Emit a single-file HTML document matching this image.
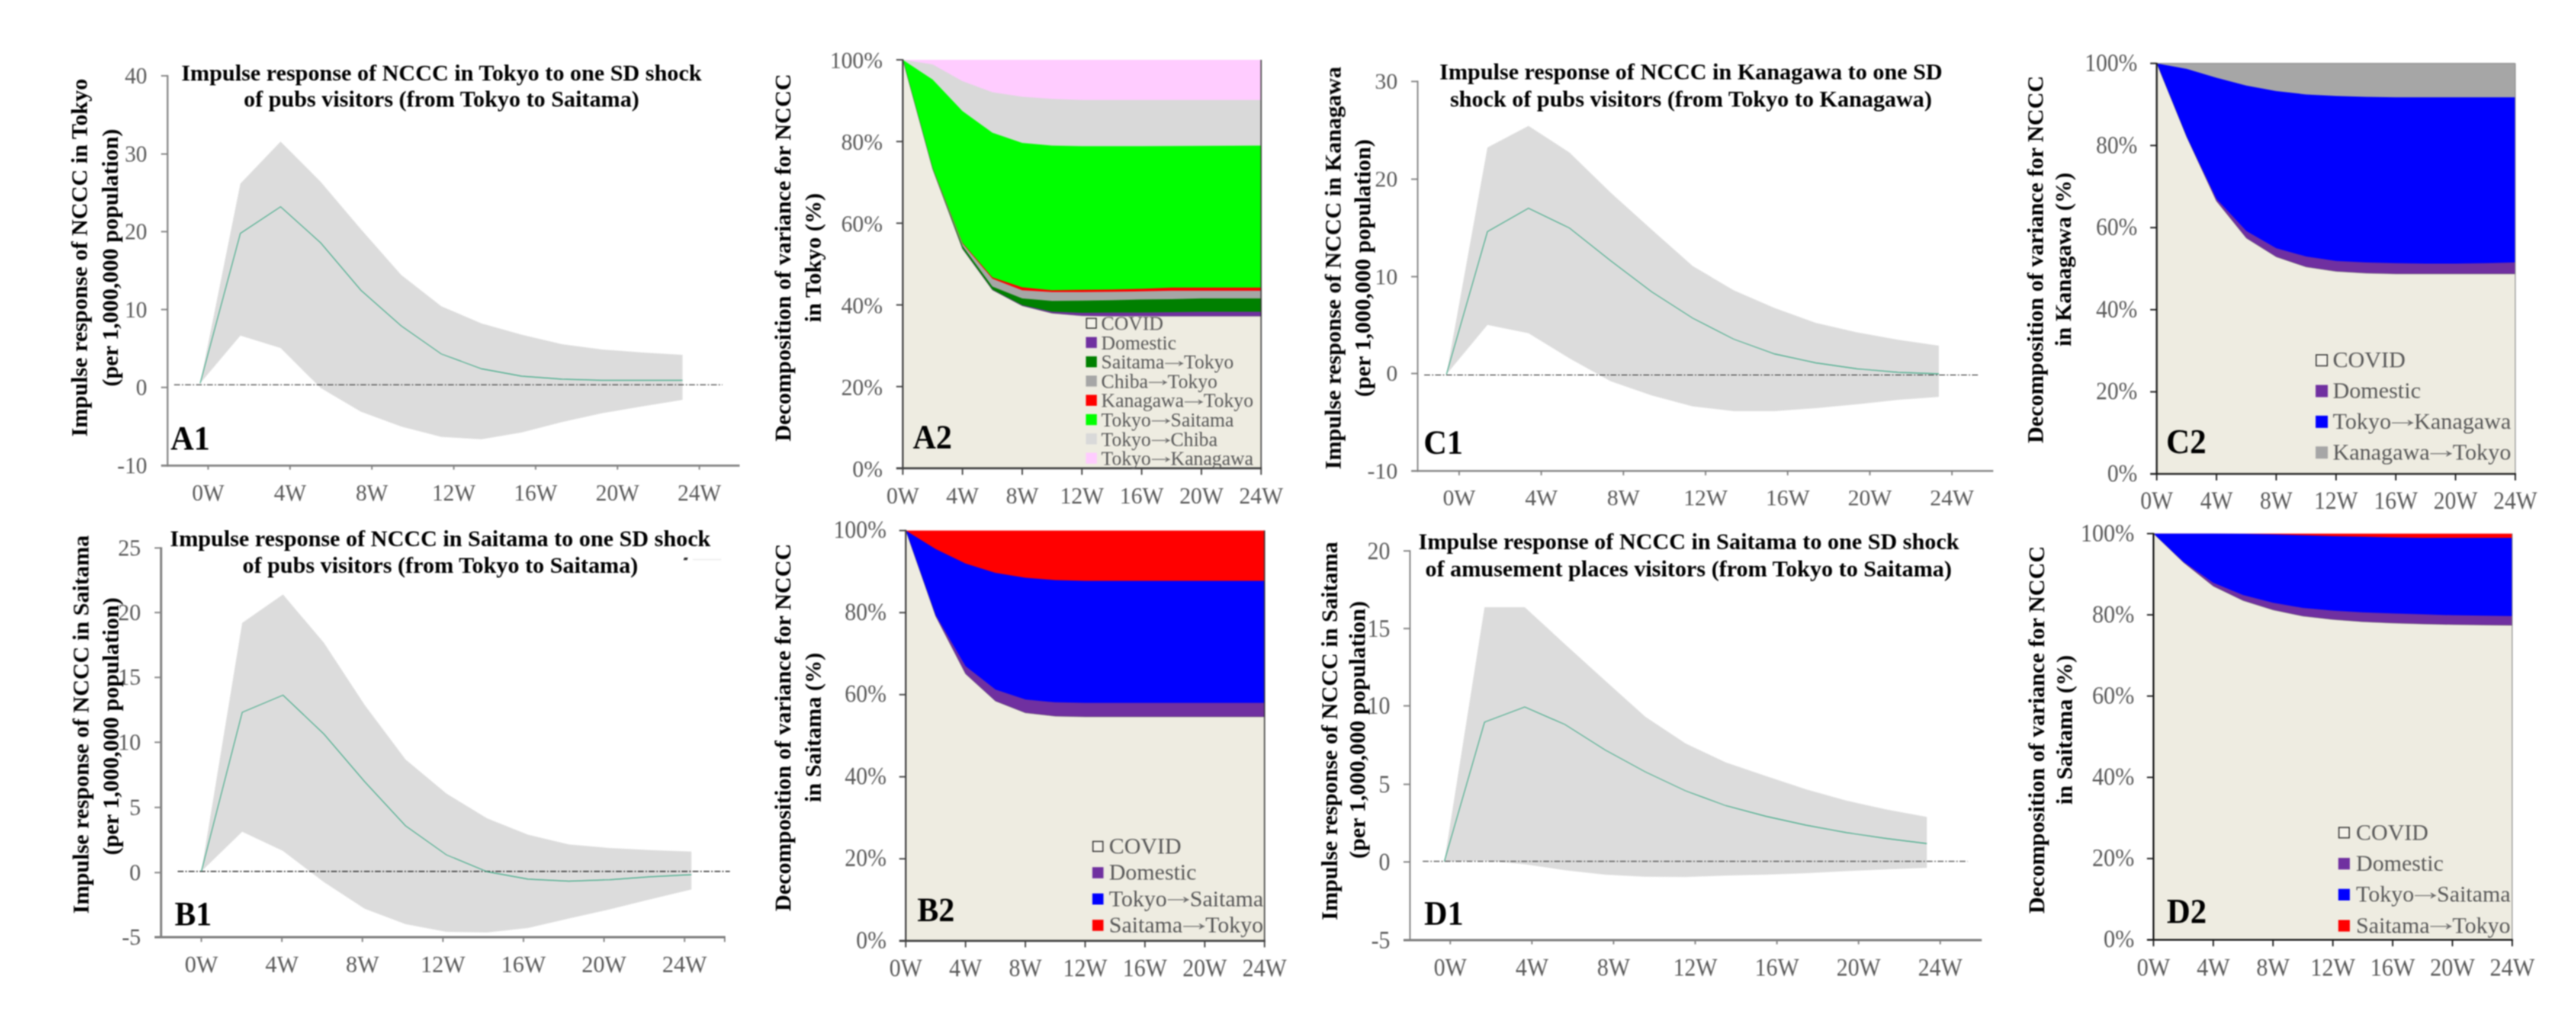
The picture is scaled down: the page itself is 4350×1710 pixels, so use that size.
<!DOCTYPE html>
<html lang="en"><head><meta charset="utf-8"><title>Impulse response and variance decomposition of NCCC</title>
<style>html,body{margin:0;padding:0;background:#fff;}body{width:4350px;height:1710px;overflow:hidden;}svg{display:block;}</style></head><body>
<svg width="4350" height="1710" viewBox="0 0 4350 1710">
<rect width="4350" height="1710" fill="#fff"/>
<defs><filter id="soft" x="0" y="0" width="100%" height="100%" filterUnits="userSpaceOnUse" color-interpolation-filters="sRGB"><feGaussianBlur stdDeviation="0.8"/></filter></defs>
<g filter="url(#soft)">
<polygon points="338.0,647.0 405.9,310.0 473.8,239.0 541.6,307.0 609.5,387.0 677.4,464.0 745.2,517.0 813.1,546.0 881.0,565.0 948.9,581.0 1016.8,590.0 1084.6,595.0 1152.5,599.0 1152.5,675.0 1084.6,686.0 1016.8,697.5 948.9,712.5 881.0,730.0 813.1,741.5 745.2,737.5 677.4,720.0 609.5,695.0 541.6,655.0 473.8,587.5 405.9,566.5 338.0,647.0" fill="#dcdcdc"/>
<line x1="294" y1="649.5" x2="1220" y2="649.5" stroke="#3a3a3a" stroke-width="1.4" stroke-dasharray="10 3 2.5 3"/>
<polyline points="338.0,647.0 405.9,394.0 473.8,349.0 541.6,410.0 609.5,490.0 677.4,550.0 745.2,597.5 813.1,622.5 881.0,635.0 948.9,640.0 1016.8,642.0 1084.6,642.0 1152.5,642.0" fill="none" stroke="#2fa47e" stroke-width="1.3"/>
<g stroke="#808080" fill="none">
<line x1="283" y1="126.8" x2="283" y2="787.8" stroke-width="2.8"/>
<line x1="272" y1="786" x2="1249" y2="786" stroke-width="3.6"/>
<line x1="272" y1="128" x2="283" y2="128" stroke-width="2.4"/>
<line x1="272" y1="260" x2="283" y2="260" stroke-width="2.4"/>
<line x1="272" y1="391" x2="283" y2="391" stroke-width="2.4"/>
<line x1="272" y1="522.5" x2="283" y2="522.5" stroke-width="2.4"/>
<line x1="272" y1="654" x2="283" y2="654" stroke-width="2.4"/>
<line x1="351.5" y1="786" x2="351.5" y2="792.8" stroke-width="2.4"/>
<line x1="489.75" y1="786" x2="489.75" y2="792.8" stroke-width="2.4"/>
<line x1="628.0" y1="786" x2="628.0" y2="792.8" stroke-width="2.4"/>
<line x1="766.25" y1="786" x2="766.25" y2="792.8" stroke-width="2.4"/>
<line x1="904.5" y1="786" x2="904.5" y2="792.8" stroke-width="2.4"/>
<line x1="1042.75" y1="786" x2="1042.75" y2="792.8" stroke-width="2.4"/>
<line x1="1181.0" y1="786" x2="1181.0" y2="792.8" stroke-width="2.4"/>
</g>
<g font-family='"Liberation Serif", serif' fill="#595959">
<text transform="translate(248.5,141.2) scale(1.0,1.08)" font-size="37.8" text-anchor="end">40</text>
<text transform="translate(248.5,273.2) scale(1.0,1.08)" font-size="37.8" text-anchor="end">30</text>
<text transform="translate(248.5,404.2) scale(1.0,1.08)" font-size="37.8" text-anchor="end">20</text>
<text transform="translate(248.5,535.7) scale(1.0,1.08)" font-size="37.8" text-anchor="end">10</text>
<text transform="translate(248.5,667.2) scale(1.0,1.08)" font-size="37.8" text-anchor="end">0</text>
<text transform="translate(248.5,798.7) scale(1.0,1.08)" font-size="37.8" text-anchor="end">-10</text>
<text transform="translate(351.5,845.2) scale(1.0,1.08)" font-size="37.8" text-anchor="middle">0W</text>
<text transform="translate(489.8,845.2) scale(1.0,1.08)" font-size="37.8" text-anchor="middle">4W</text>
<text transform="translate(628.0,845.2) scale(1.0,1.08)" font-size="37.8" text-anchor="middle">8W</text>
<text transform="translate(766.2,845.2) scale(1.0,1.08)" font-size="37.8" text-anchor="middle">12W</text>
<text transform="translate(904.5,845.2) scale(1.0,1.08)" font-size="37.8" text-anchor="middle">16W</text>
<text transform="translate(1042.8,845.2) scale(1.0,1.08)" font-size="37.8" text-anchor="middle">20W</text>
<text transform="translate(1181.0,845.2) scale(1.0,1.08)" font-size="37.8" text-anchor="middle">24W</text>
</g>
<g font-family='"Liberation Serif", serif' fill="#000">
<text transform="translate(745.5,135.5)" font-size="38.85" text-anchor="middle" font-weight="bold">Impulse response of NCCC in Tokyo to one SD shock</text>
<text transform="translate(745.5,179.5)" font-size="38.85" text-anchor="middle" font-weight="bold">of pubs visitors (from Tokyo to Saitama)</text>
<text transform="translate(147.0,435.0) rotate(-90)" font-size="38.85" text-anchor="middle" font-weight="bold">Impulse response of NCCC in Tokyo</text>
<text transform="translate(199.0,435.0) rotate(-90)" font-size="38.85" text-anchor="middle" font-weight="bold">(per 1,000,000 population)</text>
<text transform="translate(288.0,759.0) scale(1.0,1.05)" font-size="54.5" font-weight="bold">A1</text>
</g>
<polygon points="340.0,1471.0 409.0,1051.5 477.9,1003.5 546.9,1085.0 615.8,1190.0 684.8,1282.0 753.8,1339.5 822.7,1381.5 891.7,1409.0 960.6,1425.5 1029.6,1431.5 1098.6,1435.0 1167.5,1437.5 1167.5,1501.5 1098.6,1518.0 1029.6,1535.0 960.6,1550.5 891.7,1566.5 822.7,1574.0 753.8,1573.0 684.8,1560.0 615.8,1534.0 546.9,1489.0 477.9,1436.5 409.0,1404.0 340.0,1471.0" fill="#dcdcdc"/>
<line x1="300" y1="1471" x2="1232.5" y2="1471" stroke="#3a3a3a" stroke-width="1.8" stroke-dasharray="10 3 2.5 3"/>
<polyline points="340.0,1471.0 409.0,1202.5 477.9,1173.5 546.9,1239.0 615.8,1319.5 684.8,1394.0 753.8,1443.0 822.7,1471.5 891.7,1484.0 960.6,1487.5 1029.6,1485.0 1098.6,1480.0 1167.5,1476.5" fill="none" stroke="#2fa47e" stroke-width="1.3"/>
<g stroke="#808080" fill="none">
<line x1="272" y1="923.8" x2="272" y2="1584.1" stroke-width="3.8"/>
<line x1="261" y1="1582" x2="1225" y2="1582" stroke-width="4.2"/>
<line x1="261" y1="925" x2="272" y2="925" stroke-width="2.4"/>
<line x1="261" y1="1034" x2="272" y2="1034" stroke-width="2.4"/>
<line x1="261" y1="1143.5" x2="272" y2="1143.5" stroke-width="2.4"/>
<line x1="261" y1="1253" x2="272" y2="1253" stroke-width="2.4"/>
<line x1="261" y1="1363" x2="272" y2="1363" stroke-width="2.4"/>
<line x1="261" y1="1473" x2="272" y2="1473" stroke-width="2.4"/>
<line x1="340" y1="1582" x2="340" y2="1590.1" stroke-width="2.4"/>
<line x1="476" y1="1582" x2="476" y2="1590.1" stroke-width="2.4"/>
<line x1="612" y1="1582" x2="612" y2="1590.1" stroke-width="2.4"/>
<line x1="748" y1="1582" x2="748" y2="1590.1" stroke-width="2.4"/>
<line x1="884" y1="1582" x2="884" y2="1590.1" stroke-width="2.4"/>
<line x1="1020" y1="1582" x2="1020" y2="1590.1" stroke-width="2.4"/>
<line x1="1156" y1="1582" x2="1156" y2="1590.1" stroke-width="2.4"/>
<line x1="1223.8" y1="1582" x2="1223.8" y2="1590.1" stroke-width="2.4"/>
</g>
<g font-family='"Liberation Serif", serif' fill="#595959">
<text transform="translate(238.0,937.5) scale(1.0,1.02)" font-size="38.8" text-anchor="end">25</text>
<text transform="translate(238.0,1046.5) scale(1.0,1.02)" font-size="38.8" text-anchor="end">20</text>
<text transform="translate(238.0,1156.0) scale(1.0,1.02)" font-size="38.8" text-anchor="end">15</text>
<text transform="translate(238.0,1265.5) scale(1.0,1.02)" font-size="38.8" text-anchor="end">10</text>
<text transform="translate(238.0,1375.5) scale(1.0,1.02)" font-size="38.8" text-anchor="end">5</text>
<text transform="translate(238.0,1485.5) scale(1.0,1.02)" font-size="38.8" text-anchor="end">0</text>
<text transform="translate(238.0,1594.5) scale(1.0,1.02)" font-size="38.8" text-anchor="end">-5</text>
<text transform="translate(340.0,1641.0) scale(1.0,1.02)" font-size="38.8" text-anchor="middle">0W</text>
<text transform="translate(476.0,1641.0) scale(1.0,1.02)" font-size="38.8" text-anchor="middle">4W</text>
<text transform="translate(612.0,1641.0) scale(1.0,1.02)" font-size="38.8" text-anchor="middle">8W</text>
<text transform="translate(748.0,1641.0) scale(1.0,1.02)" font-size="38.8" text-anchor="middle">12W</text>
<text transform="translate(884.0,1641.0) scale(1.0,1.02)" font-size="38.8" text-anchor="middle">16W</text>
<text transform="translate(1020.0,1641.0) scale(1.0,1.02)" font-size="38.8" text-anchor="middle">20W</text>
<text transform="translate(1156.0,1641.0) scale(1.0,1.02)" font-size="38.8" text-anchor="middle">24W</text>
</g>
<g font-family='"Liberation Serif", serif' fill="#000">
<text transform="translate(743.5,921.5)" font-size="38.85" text-anchor="middle" font-weight="bold">Impulse response of NCCC in Saitama to one SD shock</text>
<text transform="translate(743.5,967.0)" font-size="38.85" text-anchor="middle" font-weight="bold">of pubs visitors (from Tokyo to Saitama)</text>
<text transform="translate(149.5,1223.0) rotate(-90)" font-size="38.85" text-anchor="middle" font-weight="bold">Impulse response of NCCC in Saitama</text>
<text transform="translate(199.5,1226.0) rotate(-90)" font-size="38.85" text-anchor="middle" font-weight="bold">(per 1,000,000 population)</text>
<text transform="translate(295.0,1562.0) scale(1.0,1.055)" font-size="53.5" font-weight="bold">B1</text>
</g>
<polygon points="2442.5,632.0 2511.8,249.0 2581.1,212.5 2650.4,257.5 2719.7,325.0 2789.0,387.5 2858.3,449.0 2927.6,490.0 2996.9,520.0 3066.2,545.0 3135.5,561.0 3204.8,573.5 3274.1,583.5 3274.1,670.0 3204.8,675.0 3135.5,682.5 3066.2,689.0 2996.9,694.0 2927.6,694.0 2858.3,686.0 2789.0,667.5 2719.7,643.5 2650.4,605.0 2581.1,562.5 2511.8,548.5 2442.5,632.0" fill="#dcdcdc"/>
<line x1="2405" y1="633" x2="3342.5" y2="633" stroke="#3a3a3a" stroke-width="1.4" stroke-dasharray="10 3 2.5 3"/>
<polyline points="2442.5,632.0 2511.8,391.0 2581.1,351.5 2650.4,385.0 2719.7,440.0 2789.0,492.5 2858.3,537.0 2927.6,572.5 2996.9,597.5 3066.2,612.5 3135.5,622.5 3204.8,628.5 3274.1,631.0" fill="none" stroke="#2fa47e" stroke-width="1.3"/>
<g stroke="#808080" fill="none">
<line x1="2394" y1="136.3" x2="2394" y2="796.4" stroke-width="2.4"/>
<line x1="2383" y1="795" x2="3366" y2="795" stroke-width="2.8"/>
<line x1="2383" y1="137.5" x2="2394" y2="137.5" stroke-width="2.4"/>
<line x1="2383" y1="302.5" x2="2394" y2="302.5" stroke-width="2.4"/>
<line x1="2383" y1="467" x2="2394" y2="467" stroke-width="2.4"/>
<line x1="2383" y1="630.5" x2="2394" y2="630.5" stroke-width="2.4"/>
<line x1="2464.0" y1="795" x2="2464.0" y2="802.4" stroke-width="2.4"/>
<line x1="2602.7" y1="795" x2="2602.7" y2="802.4" stroke-width="2.4"/>
<line x1="2741.4" y1="795" x2="2741.4" y2="802.4" stroke-width="2.4"/>
<line x1="2880.1" y1="795" x2="2880.1" y2="802.4" stroke-width="2.4"/>
<line x1="3018.8" y1="795" x2="3018.8" y2="802.4" stroke-width="2.4"/>
<line x1="3157.5" y1="795" x2="3157.5" y2="802.4" stroke-width="2.4"/>
<line x1="3296.2" y1="795" x2="3296.2" y2="802.4" stroke-width="2.4"/>
</g>
<g font-family='"Liberation Serif", serif' fill="#595959">
<text transform="translate(2360.0,150.0)" font-size="38.2" text-anchor="end">30</text>
<text transform="translate(2360.0,315.0)" font-size="38.2" text-anchor="end">20</text>
<text transform="translate(2360.0,479.5)" font-size="38.2" text-anchor="end">10</text>
<text transform="translate(2360.0,643.0)" font-size="38.2" text-anchor="end">0</text>
<text transform="translate(2360.0,807.5)" font-size="38.2" text-anchor="end">-10</text>
<text transform="translate(2464.0,852.5)" font-size="38.2" text-anchor="middle">0W</text>
<text transform="translate(2602.7,852.5)" font-size="38.2" text-anchor="middle">4W</text>
<text transform="translate(2741.4,852.5)" font-size="38.2" text-anchor="middle">8W</text>
<text transform="translate(2880.1,852.5)" font-size="38.2" text-anchor="middle">12W</text>
<text transform="translate(3018.8,852.5)" font-size="38.2" text-anchor="middle">16W</text>
<text transform="translate(3157.5,852.5)" font-size="38.2" text-anchor="middle">20W</text>
<text transform="translate(3296.2,852.5)" font-size="38.2" text-anchor="middle">24W</text>
</g>
<g font-family='"Liberation Serif", serif' fill="#000">
<text transform="translate(2855.5,134.0)" font-size="38.85" text-anchor="middle" font-weight="bold">Impulse response of NCCC in Kanagawa to one SD</text>
<text transform="translate(2855.5,179.5)" font-size="38.85" text-anchor="middle" font-weight="bold">shock of pubs visitors (from Tokyo to Kanagawa)</text>
<text transform="translate(2264.0,452.5) rotate(-90)" font-size="38.85" text-anchor="middle" font-weight="bold">Impulse response of NCCC in Kanagawa</text>
<text transform="translate(2314.0,452.5) rotate(-90)" font-size="38.85" text-anchor="middle" font-weight="bold">(per 1,000,000 population)</text>
<text transform="translate(2404.0,766.0) scale(1.0,1.05)" font-size="54.5" font-weight="bold">C1</text>
</g>
<polygon points="2439.0,1454.0 2506.9,1025.0 2574.8,1025.0 2642.7,1087.5 2710.6,1149.0 2778.5,1210.0 2846.4,1255.0 2914.3,1287.0 2982.2,1310.0 3050.1,1332.5 3118.0,1351.5 3185.9,1366.5 3253.8,1379.0 3253.8,1465.0 3185.9,1467.5 3118.0,1470.5 3050.1,1474.0 2982.2,1476.5 2914.3,1478.0 2846.4,1480.5 2778.5,1480.0 2710.6,1476.5 2642.7,1469.0 2574.8,1459.0 2506.9,1452.5 2439.0,1454.0" fill="#dcdcdc"/>
<line x1="2402.5" y1="1454" x2="3322.5" y2="1454" stroke="#3a3a3a" stroke-width="1.4" stroke-dasharray="10 3 2.5 3"/>
<polyline points="2439.0,1454.0 2506.9,1219.0 2574.8,1193.5 2642.7,1223.0 2710.6,1266.0 2778.5,1303.0 2846.4,1335.0 2914.3,1360.0 2982.2,1378.0 3050.1,1393.0 3118.0,1405.5 3185.9,1415.5 3253.8,1424.0" fill="none" stroke="#2fa47e" stroke-width="1.3"/>
<g stroke="#808080" fill="none">
<line x1="2381" y1="928.8" x2="2381" y2="1589.1" stroke-width="2.4"/>
<line x1="2370" y1="1587" x2="3346.5" y2="1587" stroke-width="4.2"/>
<line x1="2370" y1="930" x2="2381" y2="930" stroke-width="2.4"/>
<line x1="2370" y1="1061" x2="2381" y2="1061" stroke-width="2.4"/>
<line x1="2370" y1="1191.5" x2="2381" y2="1191.5" stroke-width="2.4"/>
<line x1="2370" y1="1324" x2="2381" y2="1324" stroke-width="2.4"/>
<line x1="2370" y1="1455" x2="2381" y2="1455" stroke-width="2.4"/>
<line x1="2449.0" y1="1587" x2="2449.0" y2="1594.1" stroke-width="2.4"/>
<line x1="2586.9" y1="1587" x2="2586.9" y2="1594.1" stroke-width="2.4"/>
<line x1="2724.8" y1="1587" x2="2724.8" y2="1594.1" stroke-width="2.4"/>
<line x1="2862.7" y1="1587" x2="2862.7" y2="1594.1" stroke-width="2.4"/>
<line x1="3000.6" y1="1587" x2="3000.6" y2="1594.1" stroke-width="2.4"/>
<line x1="3138.5" y1="1587" x2="3138.5" y2="1594.1" stroke-width="2.4"/>
<line x1="3276.4" y1="1587" x2="3276.4" y2="1594.1" stroke-width="2.4"/>
</g>
<g font-family='"Liberation Serif", serif' fill="#595959">
<text transform="translate(2347.5,943.5) scale(1.0,1.09)" font-size="38.4" text-anchor="end">20</text>
<text transform="translate(2347.5,1074.5) scale(1.0,1.09)" font-size="38.4" text-anchor="end">15</text>
<text transform="translate(2347.5,1205.0) scale(1.0,1.09)" font-size="38.4" text-anchor="end">10</text>
<text transform="translate(2347.5,1337.5) scale(1.0,1.09)" font-size="38.4" text-anchor="end">5</text>
<text transform="translate(2347.5,1468.5) scale(1.0,1.09)" font-size="38.4" text-anchor="end">0</text>
<text transform="translate(2347.5,1600.5) scale(1.0,1.09)" font-size="38.4" text-anchor="end">-5</text>
<text transform="translate(2449.0,1647.0) scale(1.0,1.09)" font-size="38.4" text-anchor="middle">0W</text>
<text transform="translate(2586.9,1647.0) scale(1.0,1.09)" font-size="38.4" text-anchor="middle">4W</text>
<text transform="translate(2724.8,1647.0) scale(1.0,1.09)" font-size="38.4" text-anchor="middle">8W</text>
<text transform="translate(2862.7,1647.0) scale(1.0,1.09)" font-size="38.4" text-anchor="middle">12W</text>
<text transform="translate(3000.6,1647.0) scale(1.0,1.09)" font-size="38.4" text-anchor="middle">16W</text>
<text transform="translate(3138.5,1647.0) scale(1.0,1.09)" font-size="38.4" text-anchor="middle">20W</text>
<text transform="translate(3276.4,1647.0) scale(1.0,1.09)" font-size="38.4" text-anchor="middle">24W</text>
</g>
<g font-family='"Liberation Serif", serif' fill="#000">
<text transform="translate(2851.8,927.0)" font-size="38.85" text-anchor="middle" font-weight="bold">Impulse response of NCCC in Saitama to one SD shock</text>
<text transform="translate(2851.3,973.0)" font-size="38.85" text-anchor="middle" font-weight="bold">of amusement places visitors (from Tokyo to Saitama)</text>
<text transform="translate(2258.0,1234.0) rotate(-90)" font-size="38.85" text-anchor="middle" font-weight="bold">Impulse response of NCCC in Saitama</text>
<text transform="translate(2305.0,1232.0) rotate(-90)" font-size="38.85" text-anchor="middle" font-weight="bold">(per 1,000,000 population)</text>
<text transform="translate(2405.0,1560.6) scale(1.0,1.07)" font-size="54.2" font-weight="bold">D1</text>
</g>
<path d="M1155.5 941.2h6.2l-1.4 4.4h-6.2z" fill="#2a2a2a"/><line x1="1170" y1="944.6" x2="1218" y2="944.6" stroke="#ececec" stroke-width="2"/>
<rect x="1524.5" y="101" width="605.0999999999999" height="689.5" fill="#ffccff"/>
<polygon points="1524.5,101.0 1574.9,108.8 1625.3,136.9 1675.8,155.7 1726.2,163.2 1776.6,166.9 1827.0,168.8 1877.5,168.8 1927.9,168.8 1978.3,168.8 2028.8,168.8 2079.2,168.8 2129.6,168.8 2129.6,790.5 1524.5,790.5" fill="#d9d9d9"/>
<polygon points="1524.5,101.0 1574.9,134.3 1625.3,187.6 1675.8,223.9 1726.2,241.2 1776.6,245.7 1827.0,246.8 1877.5,246.8 1927.9,246.8 1978.3,246.6 2028.8,246.3 2079.2,246.0 2129.6,245.7 2129.6,790.5 1524.5,790.5" fill="#00ff00"/>
<polygon points="1524.5,101.0 1574.9,284.0 1625.3,410.0 1675.8,468.2 1726.2,485.0 1776.6,490.0 1827.0,489.2 1877.5,488.8 1927.9,487.5 1978.3,485.5 2028.8,485.5 2079.2,485.5 2129.6,485.5 2129.6,790.5 1524.5,790.5" fill="#ff0000"/>
<polygon points="1524.5,101.0 1574.9,284.3 1625.3,411.2 1675.8,470.5 1726.2,490.0 1776.6,493.0 1827.0,493.0 1877.5,492.5 1927.9,491.8 1978.3,490.8 2028.8,490.8 2079.2,490.8 2129.6,490.8 2129.6,790.5 1524.5,790.5" fill="#a6a6a6"/>
<polygon points="1524.5,101.0 1574.9,284.6 1625.3,415.0 1675.8,483.8 1726.2,503.8 1776.6,508.0 1827.0,507.5 1877.5,506.8 1927.9,505.5 1978.3,505.0 2028.8,503.8 2079.2,503.8 2129.6,503.8 2129.6,790.5 1524.5,790.5" fill="#008000"/>
<polygon points="1524.5,101.0 1574.9,285.0 1625.3,419.5 1675.8,488.8 1726.2,515.0 1776.6,526.2 1827.0,528.0 1877.5,527.5 1927.9,527.5 1978.3,527.0 2028.8,526.2 2079.2,526.2 2129.6,526.2 2129.6,790.5 1524.5,790.5" fill="#7030a0"/>
<polygon points="1524.5,101.0 1574.9,285.3 1625.3,420.0 1675.8,489.5 1726.2,516.2 1776.6,528.8 1827.0,533.0 1877.5,533.8 1927.9,533.8 1978.3,533.8 2028.8,533.8 2079.2,533.8 2129.6,533.8 2129.6,790.5 1524.5,790.5" fill="#eeece1"/>
<polyline points="1524.5,101.0 1574.9,285.3 1625.3,420.0 1675.8,489.5 1726.2,516.2 1776.6,528.8 1827.0,533.0 1877.5,533.8 1927.9,533.8 1978.3,533.8 2028.8,533.8 2079.2,533.8 2129.6,533.8" fill="none" stroke="#333" stroke-opacity="0.45" stroke-width="1"/>
<line x1="2129.6" y1="101" x2="2129.6" y2="790.5" stroke="#333" stroke-width="2"/>
<g stroke="#404040" fill="none">
<line x1="1524.5" y1="100" x2="1524.5" y2="791.5" stroke-width="2.8"/>
<line x1="1513.5" y1="790.5" x2="2130.7999999999997" y2="790.5" stroke-width="3.4"/>
<line x1="1513.5" y1="101.0" x2="1524.5" y2="101.0" stroke-width="2.4"/>
<line x1="1513.5" y1="238.9" x2="1524.5" y2="238.9" stroke-width="2.4"/>
<line x1="1513.5" y1="376.8" x2="1524.5" y2="376.8" stroke-width="2.4"/>
<line x1="1513.5" y1="514.7" x2="1524.5" y2="514.7" stroke-width="2.4"/>
<line x1="1513.5" y1="652.6" x2="1524.5" y2="652.6" stroke-width="2.4"/>
<line x1="1524.5" y1="790.5" x2="1524.5" y2="801.5" stroke-width="2.4"/>
<line x1="1625.3" y1="790.5" x2="1625.3" y2="801.5" stroke-width="2.4"/>
<line x1="1726.2" y1="790.5" x2="1726.2" y2="801.5" stroke-width="2.4"/>
<line x1="1827.0" y1="790.5" x2="1827.0" y2="801.5" stroke-width="2.4"/>
<line x1="1927.9" y1="790.5" x2="1927.9" y2="801.5" stroke-width="2.4"/>
<line x1="2028.8" y1="790.5" x2="2028.8" y2="801.5" stroke-width="2.4"/>
<line x1="2129.6" y1="790.5" x2="2129.6" y2="801.5" stroke-width="2.4"/>
</g>
<g font-family='"Liberation Serif", serif' fill="#595959">
<text transform="translate(1490.5,115.0) scale(1.0,1.056)" font-size="38.2" text-anchor="end">100%</text>
<text transform="translate(1490.5,252.9) scale(1.0,1.056)" font-size="38.2" text-anchor="end">80%</text>
<text transform="translate(1490.5,390.8) scale(1.0,1.056)" font-size="38.2" text-anchor="end">60%</text>
<text transform="translate(1490.5,528.7) scale(1.0,1.056)" font-size="38.2" text-anchor="end">40%</text>
<text transform="translate(1490.5,666.6) scale(1.0,1.056)" font-size="38.2" text-anchor="end">20%</text>
<text transform="translate(1490.5,804.5) scale(1.0,1.056)" font-size="38.2" text-anchor="end">0%</text>
<text transform="translate(1524.5,850.0) scale(1.0,1.056)" font-size="38.2" text-anchor="middle">0W</text>
<text transform="translate(1625.3,850.0) scale(1.0,1.056)" font-size="38.2" text-anchor="middle">4W</text>
<text transform="translate(1726.2,850.0) scale(1.0,1.056)" font-size="38.2" text-anchor="middle">8W</text>
<text transform="translate(1827.0,850.0) scale(1.0,1.056)" font-size="38.2" text-anchor="middle">12W</text>
<text transform="translate(1927.9,850.0) scale(1.0,1.056)" font-size="38.2" text-anchor="middle">16W</text>
<text transform="translate(2028.8,850.0) scale(1.0,1.056)" font-size="38.2" text-anchor="middle">20W</text>
<text transform="translate(2129.6,850.0) scale(1.0,1.056)" font-size="38.2" text-anchor="middle">24W</text>
</g>
<g font-family='"Liberation Serif", serif' fill="#000">
<text transform="translate(1335.0,435.0) rotate(-90)" font-size="38.85" text-anchor="middle" font-weight="bold">Decomposition of variance for NCCC</text>
<text transform="translate(1386.0,435.0) rotate(-90)" font-size="38.85" text-anchor="middle" font-weight="bold">in Tokyo (%)</text>
<text transform="translate(1541.5,757.0) scale(1.0,1.05)" font-size="54.1" font-weight="bold">A2</text>
</g>
<g font-family='"Liberation Serif", serif' fill="#595959">
<rect x="1834.7" y="537.4" width="16.5" height="16.5" fill="#f4f2ea" stroke="#262626" stroke-width="1.8"/>
<text transform="translate(1859.6,557.2)" font-size="33.1">COVID</text>
<rect x="1833.7" y="568.9" width="18.5" height="18.5" fill="#7030a0"/>
<text transform="translate(1859.6,589.7)" font-size="33.1">Domestic</text>
<rect x="1833.7" y="601.5" width="18.5" height="18.5" fill="#008000"/>
<text transform="translate(1859.6,622.3)" font-size="33.1">Saitama</text>
<text transform="translate(1982.8,618.5) scale(1.6,1.0)" font-size="33.1" text-anchor="middle" fill="#6a6a6a">→</text>
<text transform="translate(1999.3,622.3)" font-size="33.1">Tokyo</text>
<rect x="1833.7" y="634.0" width="18.5" height="18.5" fill="#a6a6a6"/>
<text transform="translate(1859.6,654.8)" font-size="33.1">Chiba</text>
<text transform="translate(1955.2,651.0) scale(1.6,1.0)" font-size="33.1" text-anchor="middle" fill="#6a6a6a">→</text>
<text transform="translate(1971.8,654.8)" font-size="33.1">Tokyo</text>
<rect x="1833.7" y="666.5" width="18.5" height="18.5" fill="#ff0000"/>
<text transform="translate(1859.6,687.4)" font-size="33.1">Kanagawa</text>
<text transform="translate(2015.8,683.6) scale(1.6,1.0)" font-size="33.1" text-anchor="middle" fill="#6a6a6a">→</text>
<text transform="translate(2032.4,687.4)" font-size="33.1">Tokyo</text>
<rect x="1833.7" y="699.1" width="18.5" height="18.5" fill="#00ff00"/>
<text transform="translate(1859.6,719.9)" font-size="33.1">Tokyo</text>
<text transform="translate(1960.3,716.1) scale(1.6,1.0)" font-size="33.1" text-anchor="middle" fill="#6a6a6a">→</text>
<text transform="translate(1976.8,719.9)" font-size="33.1">Saitama</text>
<rect x="1833.7" y="731.6" width="18.5" height="18.5" fill="#d9d9d9"/>
<text transform="translate(1859.6,752.5)" font-size="33.1">Tokyo</text>
<text transform="translate(1960.3,748.7) scale(1.6,1.0)" font-size="33.1" text-anchor="middle" fill="#6a6a6a">→</text>
<text transform="translate(1976.8,752.5)" font-size="33.1">Chiba</text>
<rect x="1833.7" y="764.2" width="18.5" height="18.5" fill="#ffccff"/>
<text transform="translate(1859.6,785.0)" font-size="33.1">Tokyo</text>
<text transform="translate(1960.3,781.2) scale(1.6,1.0)" font-size="33.1" text-anchor="middle" fill="#6a6a6a">→</text>
<text transform="translate(1976.8,785.0)" font-size="33.1">Kanagawa</text>
</g>
<rect x="1529.5" y="895.6" width="605.9000000000001" height="692.6" fill="#ff0000"/>
<polygon points="1529.5,895.6 1580.0,926.8 1630.5,951.2 1681.0,966.9 1731.5,975.2 1782.0,979.3 1832.5,980.4 1882.9,980.4 1933.4,980.4 1983.9,980.4 2034.4,980.4 2084.9,980.4 2135.4,980.4 2135.4,1588.2 1529.5,1588.2" fill="#0000ff"/>
<polygon points="1529.5,895.6 1580.0,1038.2 1630.5,1124.5 1681.0,1163.9 1731.5,1180.8 1782.0,1185.6 1832.5,1186.4 1882.9,1186.4 1933.4,1186.4 1983.9,1186.4 2034.4,1186.4 2084.9,1186.4 2135.4,1186.4 2135.4,1588.2 1529.5,1588.2" fill="#7030a0"/>
<polygon points="1529.5,895.6 1580.0,1040.0 1630.5,1137.6 1681.0,1183.4 1731.5,1203.3 1782.0,1208.9 1832.5,1210.0 1882.9,1210.0 1933.4,1210.0 1983.9,1210.0 2034.4,1210.0 2084.9,1210.0 2135.4,1210.0 2135.4,1588.2 1529.5,1588.2" fill="#eeece1"/>
<polyline points="1529.5,895.6 1580.0,1040.0 1630.5,1137.6 1681.0,1183.4 1731.5,1203.3 1782.0,1208.9 1832.5,1210.0 1882.9,1210.0 1933.4,1210.0 1983.9,1210.0 2034.4,1210.0 2084.9,1210.0 2135.4,1210.0" fill="none" stroke="#333" stroke-opacity="0.45" stroke-width="1"/>
<line x1="2135.4" y1="895.6" x2="2135.4" y2="1588.2" stroke="#333" stroke-width="2"/>
<g stroke="#404040" fill="none">
<line x1="1529.5" y1="894.6" x2="1529.5" y2="1589.2" stroke-width="2.8"/>
<line x1="1518.5" y1="1588.2" x2="2136.6" y2="1588.2" stroke-width="3.4"/>
<line x1="1518.5" y1="895.6" x2="1529.5" y2="895.6" stroke-width="2.4"/>
<line x1="1518.5" y1="1034.1" x2="1529.5" y2="1034.1" stroke-width="2.4"/>
<line x1="1518.5" y1="1172.6" x2="1529.5" y2="1172.6" stroke-width="2.4"/>
<line x1="1518.5" y1="1311.2" x2="1529.5" y2="1311.2" stroke-width="2.4"/>
<line x1="1518.5" y1="1449.7" x2="1529.5" y2="1449.7" stroke-width="2.4"/>
<line x1="1529.5" y1="1588.2" x2="1529.5" y2="1599.2" stroke-width="2.4"/>
<line x1="1630.5" y1="1588.2" x2="1630.5" y2="1599.2" stroke-width="2.4"/>
<line x1="1731.5" y1="1588.2" x2="1731.5" y2="1599.2" stroke-width="2.4"/>
<line x1="1832.5" y1="1588.2" x2="1832.5" y2="1599.2" stroke-width="2.4"/>
<line x1="1933.4" y1="1588.2" x2="1933.4" y2="1599.2" stroke-width="2.4"/>
<line x1="2034.4" y1="1588.2" x2="2034.4" y2="1599.2" stroke-width="2.4"/>
<line x1="2135.4" y1="1588.2" x2="2135.4" y2="1599.2" stroke-width="2.4"/>
</g>
<g font-family='"Liberation Serif", serif' fill="#595959">
<text transform="translate(1497.0,908.1) scale(1.0,1.075)" font-size="38.4" text-anchor="end">100%</text>
<text transform="translate(1497.0,1046.6) scale(1.0,1.075)" font-size="38.4" text-anchor="end">80%</text>
<text transform="translate(1497.0,1185.1) scale(1.0,1.075)" font-size="38.4" text-anchor="end">60%</text>
<text transform="translate(1497.0,1323.7) scale(1.0,1.075)" font-size="38.4" text-anchor="end">40%</text>
<text transform="translate(1497.0,1462.2) scale(1.0,1.075)" font-size="38.4" text-anchor="end">20%</text>
<text transform="translate(1497.0,1600.7) scale(1.0,1.075)" font-size="38.4" text-anchor="end">0%</text>
<text transform="translate(1529.5,1647.5) scale(1.0,1.075)" font-size="38.4" text-anchor="middle">0W</text>
<text transform="translate(1630.5,1647.5) scale(1.0,1.075)" font-size="38.4" text-anchor="middle">4W</text>
<text transform="translate(1731.5,1647.5) scale(1.0,1.075)" font-size="38.4" text-anchor="middle">8W</text>
<text transform="translate(1832.5,1647.5) scale(1.0,1.075)" font-size="38.4" text-anchor="middle">12W</text>
<text transform="translate(1933.4,1647.5) scale(1.0,1.075)" font-size="38.4" text-anchor="middle">16W</text>
<text transform="translate(2034.4,1647.5) scale(1.0,1.075)" font-size="38.4" text-anchor="middle">20W</text>
<text transform="translate(2135.4,1647.5) scale(1.0,1.075)" font-size="38.4" text-anchor="middle">24W</text>
</g>
<g font-family='"Liberation Serif", serif' fill="#000">
<text transform="translate(1335.0,1228.0) rotate(-90)" font-size="38.85" text-anchor="middle" font-weight="bold">Decomposition of variance for NCCC</text>
<text transform="translate(1386.0,1228.0) rotate(-90)" font-size="38.85" text-anchor="middle" font-weight="bold">in Saitama (%)</text>
<text transform="translate(1549.0,1554.6) scale(1.0,1.06)" font-size="54" font-weight="bold">B2</text>
</g>
<g font-family='"Liberation Serif", serif' fill="#595959">
<rect x="1845.6" y="1420.4" width="16.8" height="16.8" fill="#f4f2ea" stroke="#262626" stroke-width="1.8"/>
<text transform="translate(1872.7,1440.8)" font-size="38.55">COVID</text>
<rect x="1844.6" y="1463.8" width="18.8" height="18.8" fill="#7030a0"/>
<text transform="translate(1872.7,1485.2)" font-size="38.55">Domestic</text>
<rect x="1844.6" y="1508.2" width="18.8" height="18.8" fill="#0000ff"/>
<text transform="translate(1872.7,1529.6)" font-size="38.55">Tokyo</text>
<text transform="translate(1989.9,1525.1) scale(1.6,1.0)" font-size="38.55" text-anchor="middle" fill="#6a6a6a">→</text>
<text transform="translate(2009.2,1529.6)" font-size="38.55">Saitama</text>
<rect x="1844.6" y="1552.6" width="18.8" height="18.8" fill="#ff0000"/>
<text transform="translate(1872.7,1574.0)" font-size="38.55">Saitama</text>
<text transform="translate(2016.2,1569.5) scale(1.6,1.0)" font-size="38.55" text-anchor="middle" fill="#6a6a6a">→</text>
<text transform="translate(2035.4,1574.0)" font-size="38.55">Tokyo</text>
</g>
<rect x="3642" y="107" width="605.5" height="693" fill="#a6a6a6"/>
<polygon points="3642.0,107.0 3692.5,116.3 3742.9,131.3 3793.4,144.4 3843.8,153.8 3894.3,159.4 3944.8,162.0 3995.2,163.5 4045.7,164.3 4096.1,164.3 4146.6,164.3 4197.0,164.3 4247.5,164.3 4247.5,800 3642.0,800" fill="#0000ff"/>
<polygon points="3642.0,107.0 3692.5,230.7 3742.9,335.7 3793.4,390.0 3843.8,419.0 3894.3,433.0 3944.8,440.5 3995.2,443.1 4045.7,444.3 4096.1,445.0 4146.6,445.0 4197.0,444.3 4247.5,443.1 4247.5,800 3642.0,800" fill="#7030a0"/>
<polygon points="3642.0,107.0 3692.5,231.0 3742.9,339.5 3793.4,402.0 3843.8,433.5 3894.3,450.6 3944.8,458.1 3995.2,461.1 4045.7,462.3 4096.1,462.3 4146.6,462.3 4197.0,462.3 4247.5,462.3 4247.5,800 3642.0,800" fill="#eeece1"/>
<polyline points="3642.0,107.0 3692.5,231.0 3742.9,339.5 3793.4,402.0 3843.8,433.5 3894.3,450.6 3944.8,458.1 3995.2,461.1 4045.7,462.3 4096.1,462.3 4146.6,462.3 4197.0,462.3 4247.5,462.3" fill="none" stroke="#333" stroke-opacity="0.45" stroke-width="1"/>
<line x1="4247.5" y1="107" x2="4247.5" y2="800" stroke="#8c8c8c" stroke-width="1.5"/>
<line x1="3642" y1="107" x2="4247.5" y2="107" stroke="#8c8c8c" stroke-width="1.5"/>
<g stroke="#1a1a1a" fill="none">
<line x1="3642" y1="106" x2="3642" y2="801" stroke-width="3"/>
<line x1="3631" y1="800" x2="4248.7" y2="800" stroke-width="3"/>
<line x1="3631" y1="107.0" x2="3642" y2="107.0" stroke-width="2.4"/>
<line x1="3631" y1="245.6" x2="3642" y2="245.6" stroke-width="2.4"/>
<line x1="3631" y1="384.2" x2="3642" y2="384.2" stroke-width="2.4"/>
<line x1="3631" y1="522.8" x2="3642" y2="522.8" stroke-width="2.4"/>
<line x1="3631" y1="661.4" x2="3642" y2="661.4" stroke-width="2.4"/>
<line x1="3642.0" y1="800" x2="3642.0" y2="811" stroke-width="2.4"/>
<line x1="3742.9" y1="800" x2="3742.9" y2="811" stroke-width="2.4"/>
<line x1="3843.8" y1="800" x2="3843.8" y2="811" stroke-width="2.4"/>
<line x1="3944.8" y1="800" x2="3944.8" y2="811" stroke-width="2.4"/>
<line x1="4045.7" y1="800" x2="4045.7" y2="811" stroke-width="2.4"/>
<line x1="4146.6" y1="800" x2="4146.6" y2="811" stroke-width="2.4"/>
<line x1="4247.5" y1="800" x2="4247.5" y2="811" stroke-width="2.4"/>
</g>
<g font-family='"Liberation Serif", serif' fill="#595959">
<text transform="translate(3609.3,120.0) scale(1.0,1.1)" font-size="38.1" text-anchor="end">100%</text>
<text transform="translate(3609.3,258.6) scale(1.0,1.1)" font-size="38.1" text-anchor="end">80%</text>
<text transform="translate(3609.3,397.2) scale(1.0,1.1)" font-size="38.1" text-anchor="end">60%</text>
<text transform="translate(3609.3,535.8) scale(1.0,1.1)" font-size="38.1" text-anchor="end">40%</text>
<text transform="translate(3609.3,674.4) scale(1.0,1.1)" font-size="38.1" text-anchor="end">20%</text>
<text transform="translate(3609.3,813.0) scale(1.0,1.1)" font-size="38.1" text-anchor="end">0%</text>
<text transform="translate(3642.0,859.0) scale(1.0,1.1)" font-size="38.1" text-anchor="middle">0W</text>
<text transform="translate(3742.9,859.0) scale(1.0,1.1)" font-size="38.1" text-anchor="middle">4W</text>
<text transform="translate(3843.8,859.0) scale(1.0,1.1)" font-size="38.1" text-anchor="middle">8W</text>
<text transform="translate(3944.8,859.0) scale(1.0,1.1)" font-size="38.1" text-anchor="middle">12W</text>
<text transform="translate(4045.7,859.0) scale(1.0,1.1)" font-size="38.1" text-anchor="middle">16W</text>
<text transform="translate(4146.6,859.0) scale(1.0,1.1)" font-size="38.1" text-anchor="middle">20W</text>
<text transform="translate(4247.5,859.0) scale(1.0,1.1)" font-size="38.1" text-anchor="middle">24W</text>
</g>
<g font-family='"Liberation Serif", serif' fill="#000">
<text transform="translate(3450.0,438.0) rotate(-90)" font-size="38.85" text-anchor="middle" font-weight="bold">Decomposition of variance for NCCC</text>
<text transform="translate(3497.0,438.0) rotate(-90)" font-size="38.85" text-anchor="middle" font-weight="bold">in Kanagawa (%)</text>
<text transform="translate(3658.0,765.0) scale(1.0,1.075)" font-size="55.3" font-weight="bold">C2</text>
</g>
<g font-family='"Liberation Serif", serif' fill="#595959">
<rect x="3911.3" y="598.9" width="18.6" height="18.6" fill="#f4f2ea" stroke="#262626" stroke-width="1.8"/>
<text transform="translate(3939.2,620.2)" font-size="38.8">COVID</text>
<rect x="3910.3" y="649.8" width="20.6" height="20.6" fill="#7030a0"/>
<text transform="translate(3939.2,672.1)" font-size="38.8">Domestic</text>
<rect x="3910.3" y="701.7" width="20.6" height="20.6" fill="#0000ff"/>
<text transform="translate(3939.2,724.0)" font-size="38.8">Tokyo</text>
<text transform="translate(4057.2,719.6) scale(1.6,1.0)" font-size="38.8" text-anchor="middle" fill="#6a6a6a">→</text>
<text transform="translate(4076.6,724.0)" font-size="38.8">Kanagawa</text>
<rect x="3910.3" y="753.6" width="20.6" height="20.6" fill="#a6a6a6"/>
<text transform="translate(3939.2,775.9)" font-size="38.8">Kanagawa</text>
<text transform="translate(4122.3,771.5) scale(1.6,1.0)" font-size="38.8" text-anchor="middle" fill="#6a6a6a">→</text>
<text transform="translate(4141.7,775.9)" font-size="38.8">Tokyo</text>
</g>
<rect x="3636.5" y="900.8" width="605.8000000000002" height="685.6000000000001" fill="#ff0000"/>
<polygon points="3636.5,900.8 3687.0,900.8 3737.5,900.8 3787.9,901.0 3838.4,902.0 3888.9,903.5 3939.4,905.0 3989.9,906.1 4040.4,907.3 4090.9,908.0 4141.3,908.0 4191.8,908.0 4242.3,908.0 4242.3,1586.4 3636.5,1586.4" fill="#0000ff"/>
<polygon points="3636.5,900.8 3687.0,948.2 3737.5,983.8 3787.9,1004.4 3838.4,1017.6 3888.9,1026.2 3939.4,1030.7 3989.9,1033.7 4040.4,1035.6 4090.9,1037.1 4141.3,1038.6 4191.8,1039.3 4242.3,1040.0 4242.3,1586.4 3636.5,1586.4" fill="#7030a0"/>
<polygon points="3636.5,900.8 3687.0,949.3 3737.5,989.4 3787.9,1013.8 3838.4,1029.6 3888.9,1040.0 3939.4,1045.7 3989.9,1049.5 4040.4,1051.7 4090.9,1053.2 4141.3,1054.3 4191.8,1055.0 4242.3,1055.5 4242.3,1586.4 3636.5,1586.4" fill="#eeece1"/>
<polyline points="3636.5,900.8 3687.0,949.3 3737.5,989.4 3787.9,1013.8 3838.4,1029.6 3888.9,1040.0 3939.4,1045.7 3989.9,1049.5 4040.4,1051.7 4090.9,1053.2 4141.3,1054.3 4191.8,1055.0 4242.3,1055.5" fill="none" stroke="#333" stroke-opacity="0.45" stroke-width="1"/>
<line x1="4242.3" y1="900.8" x2="4242.3" y2="1586.4" stroke="#8c8c8c" stroke-width="1.5"/>
<g stroke="#1a1a1a" fill="none">
<line x1="3636.5" y1="899.8" x2="3636.5" y2="1587.4" stroke-width="3"/>
<line x1="3625.5" y1="1586.4" x2="4243.5" y2="1586.4" stroke-width="3"/>
<line x1="3625.5" y1="900.8" x2="3636.5" y2="900.8" stroke-width="2.4"/>
<line x1="3625.5" y1="1037.9" x2="3636.5" y2="1037.9" stroke-width="2.4"/>
<line x1="3625.5" y1="1175.0" x2="3636.5" y2="1175.0" stroke-width="2.4"/>
<line x1="3625.5" y1="1312.2" x2="3636.5" y2="1312.2" stroke-width="2.4"/>
<line x1="3625.5" y1="1449.3" x2="3636.5" y2="1449.3" stroke-width="2.4"/>
<line x1="3636.5" y1="1586.4" x2="3636.5" y2="1597.4" stroke-width="2.4"/>
<line x1="3737.5" y1="1586.4" x2="3737.5" y2="1597.4" stroke-width="2.4"/>
<line x1="3838.4" y1="1586.4" x2="3838.4" y2="1597.4" stroke-width="2.4"/>
<line x1="3939.4" y1="1586.4" x2="3939.4" y2="1597.4" stroke-width="2.4"/>
<line x1="4040.4" y1="1586.4" x2="4040.4" y2="1597.4" stroke-width="2.4"/>
<line x1="4141.3" y1="1586.4" x2="4141.3" y2="1597.4" stroke-width="2.4"/>
<line x1="4242.3" y1="1586.4" x2="4242.3" y2="1597.4" stroke-width="2.4"/>
</g>
<g font-family='"Liberation Serif", serif' fill="#595959">
<text transform="translate(3604.2,913.8) scale(1.0,1.06)" font-size="38.9" text-anchor="end">100%</text>
<text transform="translate(3604.2,1050.9) scale(1.0,1.06)" font-size="38.9" text-anchor="end">80%</text>
<text transform="translate(3604.2,1188.0) scale(1.0,1.06)" font-size="38.9" text-anchor="end">60%</text>
<text transform="translate(3604.2,1325.2) scale(1.0,1.06)" font-size="38.9" text-anchor="end">40%</text>
<text transform="translate(3604.2,1462.3) scale(1.0,1.06)" font-size="38.9" text-anchor="end">20%</text>
<text transform="translate(3604.2,1599.4) scale(1.0,1.06)" font-size="38.9" text-anchor="end">0%</text>
<text transform="translate(3636.5,1646.5) scale(1.0,1.06)" font-size="38.9" text-anchor="middle">0W</text>
<text transform="translate(3737.5,1646.5) scale(1.0,1.06)" font-size="38.9" text-anchor="middle">4W</text>
<text transform="translate(3838.4,1646.5) scale(1.0,1.06)" font-size="38.9" text-anchor="middle">8W</text>
<text transform="translate(3939.4,1646.5) scale(1.0,1.06)" font-size="38.9" text-anchor="middle">12W</text>
<text transform="translate(4040.4,1646.5) scale(1.0,1.06)" font-size="38.9" text-anchor="middle">16W</text>
<text transform="translate(4141.3,1646.5) scale(1.0,1.06)" font-size="38.9" text-anchor="middle">20W</text>
<text transform="translate(4242.3,1646.5) scale(1.0,1.06)" font-size="38.9" text-anchor="middle">24W</text>
</g>
<g font-family='"Liberation Serif", serif' fill="#000">
<text transform="translate(3451.5,1232.0) rotate(-90)" font-size="38.85" text-anchor="middle" font-weight="bold">Decomposition of variance for NCCC</text>
<text transform="translate(3499.0,1232.0) rotate(-90)" font-size="38.85" text-anchor="middle" font-weight="bold">in Saitama (%)</text>
<text transform="translate(3659.0,1558.0) scale(1.0,1.057)" font-size="55" font-weight="bold">D2</text>
</g>
<g font-family='"Liberation Serif", serif' fill="#595959">
<rect x="3949.6" y="1396.8" width="17.5" height="17.5" fill="#f4f2ea" stroke="#262626" stroke-width="1.8"/>
<text transform="translate(3978.6,1417.5)" font-size="38.55">COVID</text>
<rect x="3948.6" y="1448.2" width="19.5" height="19.5" fill="#7030a0"/>
<text transform="translate(3978.6,1469.9)" font-size="38.55">Domestic</text>
<rect x="3948.6" y="1500.5" width="19.5" height="19.5" fill="#0000ff"/>
<text transform="translate(3978.6,1522.3)" font-size="38.55">Tokyo</text>
<text transform="translate(4095.8,1517.8) scale(1.6,1.0)" font-size="38.55" text-anchor="middle" fill="#6a6a6a">→</text>
<text transform="translate(4115.1,1522.3)" font-size="38.55">Saitama</text>
<rect x="3948.6" y="1553.0" width="19.5" height="19.5" fill="#ff0000"/>
<text transform="translate(3978.6,1574.7)" font-size="38.55">Saitama</text>
<text transform="translate(4122.1,1570.2) scale(1.6,1.0)" font-size="38.55" text-anchor="middle" fill="#6a6a6a">→</text>
<text transform="translate(4141.3,1574.7)" font-size="38.55">Tokyo</text>
</g>
</g></svg></body></html>
